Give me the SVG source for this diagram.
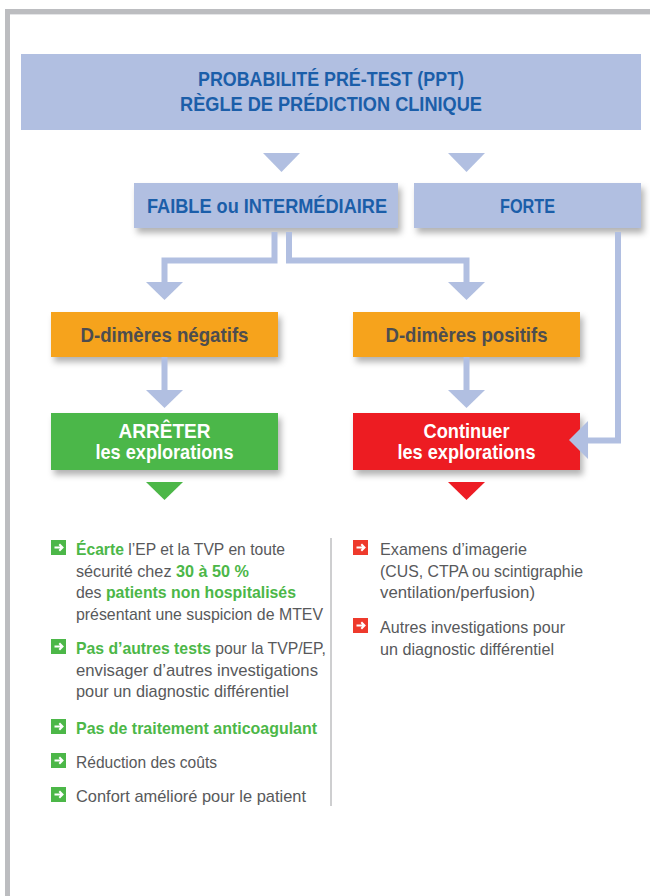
<svg xmlns="http://www.w3.org/2000/svg" width="650" height="896" viewBox="0 0 650 896">
<style>
.hd{font-family:"Liberation Sans",Arial,sans-serif;font-weight:bold;font-size:20.5px;text-anchor:middle}
.ttl{font-size:21px}
.blue{fill:#1b5ea9}
.dark{fill:#4d4d4f}
.white{fill:#ffffff}
.tx{font-family:"Liberation Sans",Arial,sans-serif;font-size:17px;fill:#58595b}
.g{fill:#4cb748;font-weight:bold}
.conn{fill:none;stroke:#b1bfe1;stroke-width:6;stroke-linejoin:miter}
.ah{fill:#b1bfe1}
</style>
<defs>
<filter id="sh" x="-10%" y="-20%" width="130%" height="160%">
<feDropShadow dx="3" dy="5" stdDeviation="3" flood-color="#000" flood-opacity="0.3"/>
</filter>
<g id="arr"><path d="M3.5 7.5H11.5M8.3 4.3L11.5 7.5L8.3 10.7" fill="none" stroke="#fff" stroke-width="2"/></g>
</defs>
<rect x="0" y="0" width="650" height="896" fill="#fff"/>
<g id="frame">
<rect x="5" y="9" width="645" height="5" fill="#bcbdc0"/>
<rect x="5" y="9" width="5" height="887" fill="#bcbdc0"/>
<rect x="10" y="14" width="640" height="1" fill="#e4e5e7"/>
</g>
<g id="ppt">
<rect x="21" y="54" width="620" height="76" fill="#b1bfe1"/>
<text class="hd ttl blue" x="331" y="86" textLength="266" lengthAdjust="spacingAndGlyphs">PROBABILITÉ PRÉ-TEST (PPT)</text>
<text class="hd ttl blue" x="331" y="110.5" textLength="302" lengthAdjust="spacingAndGlyphs">RÈGLE DE PRÉDICTION CLINIQUE</text>
</g>
<g id="faible">
<rect x="134" y="183" width="264" height="45" fill="#b1bfe1" filter="url(#sh)"/>
<text class="hd blue" x="267" y="212.5" textLength="240" lengthAdjust="spacingAndGlyphs">FAIBLE ou INTERMÉDIAIRE</text>
</g>
<g id="forte">
<rect x="414" y="183" width="227" height="45" fill="#b1bfe1" filter="url(#sh)"/>
<text class="hd blue" x="527.5" y="212.5" textLength="55" lengthAdjust="spacingAndGlyphs">FORTE</text>
</g>
<g id="dneg">
<rect x="51" y="312" width="227" height="45" fill="#f6a31e" filter="url(#sh)"/>
<text class="hd dark" x="164.5" y="341.5" textLength="168" lengthAdjust="spacingAndGlyphs">D-dimères négatifs</text>
</g>
<g id="dpos">
<rect x="353" y="312" width="227" height="45" fill="#f6a31e" filter="url(#sh)"/>
<text class="hd dark" x="466.5" y="341.5" textLength="162" lengthAdjust="spacingAndGlyphs">D-dimères positifs</text>
</g>
<g id="arreter">
<rect x="51" y="413" width="227" height="57" fill="#4cb748" filter="url(#sh)"/>
<text class="hd white" x="164.5" y="437.5" textLength="92" lengthAdjust="spacingAndGlyphs">ARRÊTER</text>
<text class="hd white" x="164.5" y="459" textLength="138" lengthAdjust="spacingAndGlyphs">les explorations</text>
</g>
<g id="continuer">
<rect x="353" y="413" width="227" height="57" fill="#ed1c24" filter="url(#sh)"/>
<text class="hd white" x="466.5" y="437.5" textLength="86" lengthAdjust="spacingAndGlyphs">Continuer</text>
<text class="hd white" x="466.5" y="459" textLength="138" lengthAdjust="spacingAndGlyphs">les explorations</text>
</g>
<g id="connectors">
<polygon class="ah" points="263,153 300,153 281.5,172"/>
<polygon class="ah" points="448,153 485,153 466.5,172"/>
<path class="conn" d="M274.5 232V260.5H164.5V282"/>
<polygon class="ah" points="146,282 183,282 164.5,300"/>
<path class="conn" d="M289 232V260.5H466.5V282"/>
<polygon class="ah" points="448,282 485,282 466.5,300"/>
<path class="conn" d="M164.5 357V390"/>
<polygon class="ah" points="146,390 183,390 164.5,408"/>
<path class="conn" d="M466.5 357V390"/>
<polygon class="ah" points="448,390 485,390 466.5,408"/>
<path class="conn" d="M618 232V440.5H586"/>
<polygon class="ah" points="588,421 588,459 569,440"/>
<polygon fill="#4cb748" points="146,482 183,482 164.5,500"/>
<polygon fill="#ed1c24" points="448,482 485,482 466.5,500"/>
</g>
<g id="divider">
<line x1="331" y1="538" x2="331" y2="806" stroke="#9d9ea1" stroke-width="1"/>
</g>
<g id="list-left">
<rect x="51" y="540" width="15" height="15" fill="#4cb748"/><use href="#arr" x="51" y="540"/>
<text class="tx" x="76" y="555" textLength="209" lengthAdjust="spacingAndGlyphs"><tspan class="g">Écarte</tspan> l’EP et la TVP en toute</text>
<text class="tx" x="76" y="576.5" textLength="173" lengthAdjust="spacingAndGlyphs">sécurité chez <tspan class="g">30 à 50 %</tspan></text>
<text class="tx" x="76" y="598" textLength="220" lengthAdjust="spacingAndGlyphs">des <tspan class="g">patients non hospitalisés</tspan></text>
<text class="tx" x="76" y="619.5" textLength="247" lengthAdjust="spacingAndGlyphs">présentant une suspicion de MTEV</text>
<rect x="51" y="639" width="15" height="15" fill="#4cb748"/><use href="#arr" x="51" y="639"/>
<text class="tx" x="76" y="654" textLength="250" lengthAdjust="spacingAndGlyphs"><tspan class="g">Pas d’autres tests</tspan> pour la TVP/EP,</text>
<text class="tx" x="76" y="675.5" textLength="242" lengthAdjust="spacingAndGlyphs">envisager d’autres investigations</text>
<text class="tx" x="76" y="697" textLength="213" lengthAdjust="spacingAndGlyphs">pour un diagnostic différentiel</text>
<rect x="51" y="719" width="15" height="15" fill="#4cb748"/><use href="#arr" x="51" y="719"/>
<text class="tx" x="76" y="734" textLength="241" lengthAdjust="spacingAndGlyphs"><tspan class="g">Pas de traitement anticoagulant</tspan></text>
<rect x="51" y="753" width="15" height="15" fill="#4cb748"/><use href="#arr" x="51" y="753"/>
<text class="tx" x="76" y="768" textLength="141" lengthAdjust="spacingAndGlyphs">Réduction des coûts</text>
<rect x="51" y="787" width="15" height="15" fill="#4cb748"/><use href="#arr" x="51" y="787"/>
<text class="tx" x="76" y="802" textLength="230" lengthAdjust="spacingAndGlyphs">Confort amélioré pour le patient</text>
</g>
<g id="list-right">
<rect x="353" y="540" width="15" height="15" fill="#ee3a2c"/><use href="#arr" x="353" y="540"/>
<text class="tx" x="380" y="555" textLength="147" lengthAdjust="spacingAndGlyphs">Examens d’imagerie</text>
<text class="tx" x="380" y="576.5" textLength="203" lengthAdjust="spacingAndGlyphs">(CUS, CTPA ou scintigraphie</text>
<text class="tx" x="380" y="598" textLength="155" lengthAdjust="spacingAndGlyphs">ventilation/perfusion)</text>
<rect x="353" y="618" width="15" height="15" fill="#ee3a2c"/><use href="#arr" x="353" y="618"/>
<text class="tx" x="380" y="633" textLength="185" lengthAdjust="spacingAndGlyphs">Autres investigations pour</text>
<text class="tx" x="380" y="654.5" textLength="174" lengthAdjust="spacingAndGlyphs">un diagnostic différentiel</text>
</g>
</svg>
